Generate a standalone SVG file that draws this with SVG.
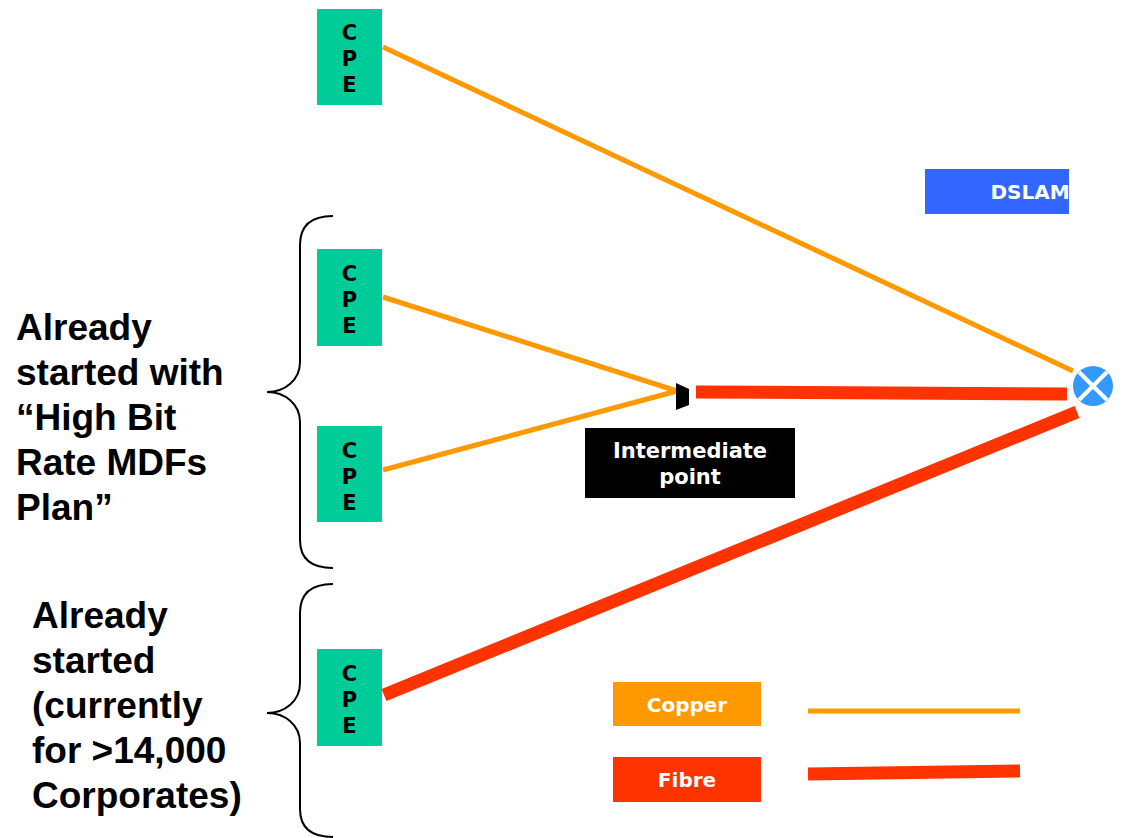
<svg xmlns="http://www.w3.org/2000/svg" width="1124" height="838" viewBox="0 0 1124 838">
  <style>
    .cpe { fill: #00CC99; }
    .cpe-text { font-family: "DejaVu Sans", Verdana, sans-serif; font-weight: bold; font-size: 21px; fill: #000; text-anchor: middle; }
    .label { font-family: "DejaVu Sans", Verdana, sans-serif; font-weight: bold; font-size: 20px; fill: #fff; text-anchor: middle; }
    .label-wide { font-size: 21px; }
    .note { font-family: "Liberation Sans", Arial, sans-serif; font-weight: bold; font-size: 37px; fill: #000; }
    .copper { stroke: #FF9900; stroke-width: 5; fill: none; }
    .fibre { stroke: #FF3300; stroke-width: 13; fill: none; }
    .brace { stroke: #000; stroke-width: 2; fill: none; }
  </style>

  <rect width="1124" height="838" fill="#fff"/>

  <!-- links between customer premises, intermediate point and DSLAM -->
  <g id="connectors">
    <line class="copper" x1="383" y1="47" x2="1073" y2="371"/>
    <line class="copper" x1="383" y1="297" x2="677" y2="391"/>
    <line class="copper" x1="383" y1="470" x2="677" y2="391"/>
    <line class="fibre" x1="696" y1="392" x2="1067" y2="394"/>
    <line class="fibre" x1="384" y1="695" x2="1077" y2="412"/>
  </g>

  <!-- customer premises equipment -->
  <g id="cpe1">
    <rect class="cpe" x="317" y="9" width="65" height="96"/>
    <text class="cpe-text" x="349.5" y="40">C</text>
    <text class="cpe-text" x="349.5" y="66">P</text>
    <text class="cpe-text" x="349.5" y="92">E</text>
  </g>
  <g id="cpe2">
    <rect class="cpe" x="317" y="249" width="65" height="97"/>
    <text class="cpe-text" x="349.5" y="281">C</text>
    <text class="cpe-text" x="349.5" y="307">P</text>
    <text class="cpe-text" x="349.5" y="333">E</text>
  </g>
  <g id="cpe3">
    <rect class="cpe" x="317" y="426" width="65" height="96"/>
    <text class="cpe-text" x="349.5" y="458">C</text>
    <text class="cpe-text" x="349.5" y="484">P</text>
    <text class="cpe-text" x="349.5" y="510">E</text>
  </g>
  <g id="cpe4">
    <rect class="cpe" x="317" y="649" width="65" height="97"/>
    <text class="cpe-text" x="349.5" y="681">C</text>
    <text class="cpe-text" x="349.5" y="707">P</text>
    <text class="cpe-text" x="349.5" y="733">E</text>
  </g>

  <!-- intermediate point -->
  <g id="intermediate">
    <polygon points="676,383 689,389 689,405 676,410" fill="#000"/>
    <rect x="585" y="428" width="210" height="70" fill="#000"/>
    <text class="label label-wide" x="690" y="458">Intermediate</text>
    <text class="label label-wide" x="690" y="484">point</text>
  </g>

  <!-- DSLAM -->
  <g id="dslam">
    <rect x="925" y="169" width="144" height="45" fill="#3366FF"/>
    <text class="label" x="1030" y="199">DSLAM</text>
    <circle cx="1093" cy="386" r="20" fill="#3399FF"/>
    <line x1="1079" y1="372" x2="1107" y2="400" stroke="#fff" stroke-width="4"/>
    <line x1="1107" y1="372" x2="1079" y2="400" stroke="#fff" stroke-width="4"/>
  </g>

  <!-- grouping braces and notes -->
  <g id="note-mdf">
    <path class="brace" d="M333,216 C312,216 300,225 300,245 L300,362 C300,380 285,392 267,392 C285,392 300,404 300,422 L300,540 C300,559 312,568 333,568"/>
    <text class="note" x="16" y="340">Already</text>
    <text class="note" x="16" y="385">started with</text>
    <text class="note" x="16" y="430">“High Bit</text>
    <text class="note" x="16" y="475">Rate MDFs</text>
    <text class="note" x="16" y="520">Plan”</text>
  </g>
  <g id="note-corporates">
    <path class="brace" d="M333,584 C312,584 300,593 300,613 L300,683 C300,701 285,713 267,713 C285,713 300,725 300,743 L300,809 C300,828 312,837 333,837"/>
    <text class="note" x="32" y="628">Already</text>
    <text class="note" x="32" y="673">started</text>
    <text class="note" x="32" y="718">(currently</text>
    <text class="note" x="32" y="763">for &gt;14,000</text>
    <text class="note" x="32" y="808">Corporates)</text>
  </g>

  <!-- legend -->
  <g id="legend-copper">
    <rect x="613" y="682" width="148" height="44" fill="#FF9900"/>
    <text class="label" x="687" y="712">Copper</text>
    <line class="copper" x1="808" y1="711" x2="1020" y2="711"/>
  </g>
  <g id="legend-fibre">
    <rect x="613" y="757" width="148" height="45" fill="#FF3300"/>
    <text class="label" x="687" y="787">Fibre</text>
    <line class="fibre" x1="808" y1="774" x2="1020" y2="771"/>
  </g>
</svg>
